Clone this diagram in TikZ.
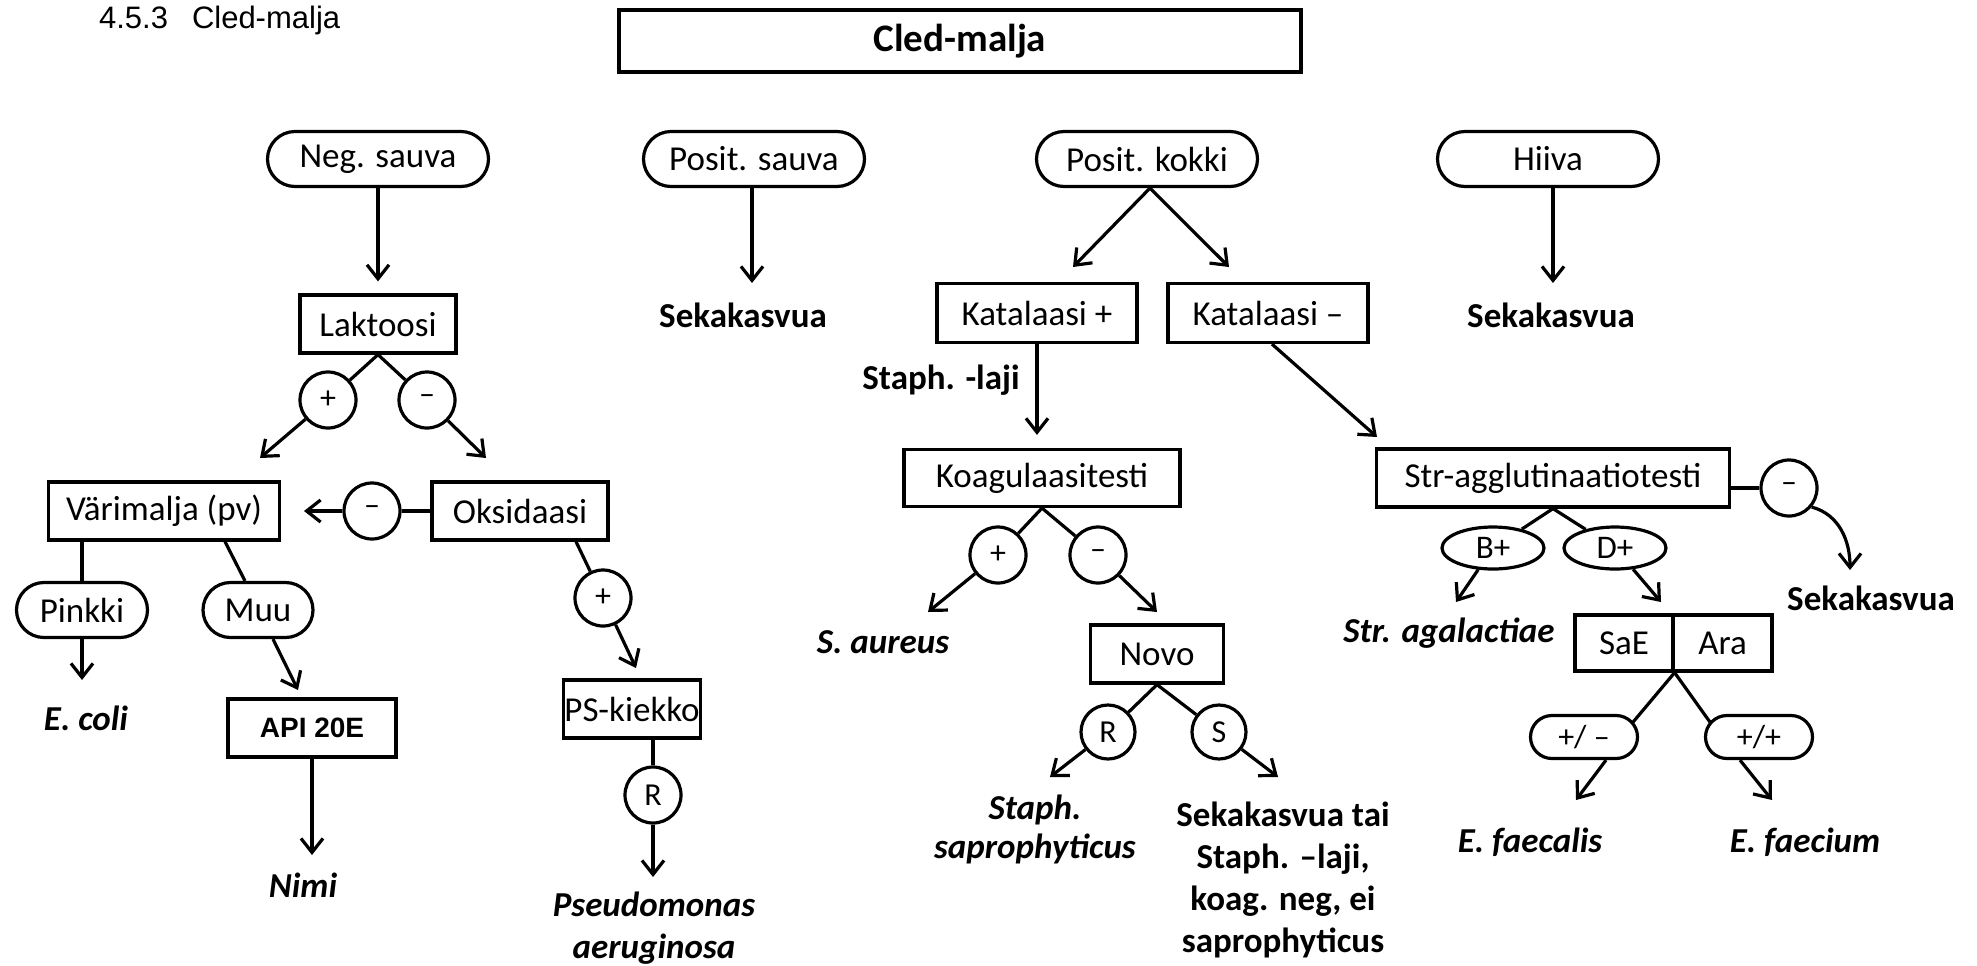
\documentclass[tikz,border=0pt]{standalone}
\usepackage{fontspec}
\setmainfont{Carlito}
\newfontfamily\arialfont{Liberation Sans}
\usetikzlibrary{arrows.meta,calc,shapes.geometric}

\begin{document}
\begin{tikzpicture}[x=0.5pt,y=-0.5pt,
  txt/.style={font=\fontsize{17.5}{21}\selectfont},
  box/.style={draw, rectangle, line width=1.6pt, inner sep=0pt, txt},
  pill/.style={draw, rectangle, rounded corners=13.75pt, line width=1.6pt,
    inner sep=0pt, minimum width=110.5pt, minimum height=27.5pt, txt},
  spill/.style={draw, rectangle, rounded corners=10.75pt, line width=1.6pt,
    inner sep=0pt, minimum width=53.5pt, minimum height=21.5pt,
    font=\fontsize{16}{18}\selectfont},
  circ/.style={draw, circle, line width=1.6pt, inner sep=0pt, minimum size=28pt,
    font=\fontsize{16}{18}\selectfont},
  ell/.style={draw, ellipse, line width=1.6pt, inner sep=0pt,
    minimum width=51pt, minimum height=21pt, font=\fontsize{16.5}{18}\selectfont},
  res/.style={align=center, font=\bfseries\fontsize{17.5}{21}\selectfont},
  spec/.style={align=center, font=\bfseries\itshape\fontsize{17.5}{21}\selectfont},
  conn/.style={line width=1.6pt},
  arr/.style={conn, -{Straight Barb[length=7pt,width=11pt]}}
]
\useasboundingbox (0,0) rectangle (1977,965);

% heading and title
\node[anchor=base west, font=\arialfont\fontsize{15.5}{18}\selectfont] (sec) at (92,28)
  {4.5.3\hspace{12pt}Cled-malja};
\node[box, line width=2.2pt, minimum width=341pt, minimum height=31pt,
  font=\bfseries\fontsize{19.5}{22}\selectfont] (title) at (960,41) {Cled-malja};

% top level groups
\node[pill] (neg) at (378,159) {Neg. sauva};
\node[pill] (psa) at (754,159) {Posit. sauva};
\node[pill] (pko) at (1147,159) {Posit. kokki};
\node[pill] (hii) at (1548,159) {Hiiva};

% ---- gram negative rods
\node[box, minimum width=78pt, minimum height=29pt] (lak) at (378,324) {Laktoosi};
\draw[arr, shorten >=6pt] (neg) -- (lak);

\node[circ] (lp) at (328,400) {+};
\node[circ] (lm) at (427,400) {–};
\draw[conn] (lak.south) -- (lp);
\draw[conn] (lak.south) -- (lm);
\coordinate (tlp) at (260,458);
\coordinate (tlm) at (486,458);
\draw[arr] (lp) -- (tlp);
\draw[arr] (lm) -- (tlm);

\node[box, minimum width=115.5pt, minimum height=29pt] (var) at (164,511) {Värimalja (pv)};
\node[box, minimum width=88pt, minimum height=29pt] (oks) at (520,511) {Oksidaasi};
\node[circ] (om) at (372,511) {–};
\draw[conn] (oks) -- (om);
\coordinate (tom) at (304,511);
\draw[arr] (om) -- (tom);

\node[pill, minimum width=65.5pt] (pin) at (82,610) {Pinkki};
\node[pill, minimum width=55pt] (muu) at (258,610) {Muu};
\draw[conn] (var.south -| pin) -- (pin);
\draw[conn] ($(var.south)+(61,0)$) -- ($(muu.north)+(-13,0)$);
\coordinate (tpin) at (82,680);
\draw[arr] (pin) -- (tpin);
\coordinate (tmuu) at (298,690);
\draw[arr] ($(muu.south)+(15,0)$) -- (tmuu);
\node[spec] (eco) at (86,718) {E. coli};

\node[box, line width=2pt, minimum width=84pt, minimum height=29pt,
  font=\arialfont\bfseries\fontsize{14}{16}\selectfont] (api) at (312,728) {API 20E};
\coordinate (tapi) at (312,855);
\draw[arr] (api) -- (tapi);
\node[spec] (nimi) at (303,885) {Nimi};

\node[circ] (op) at (603,598) {+};
\draw[conn] ($(oks.south)+(56,0)$) -- (op);
\coordinate (top) at (636,668);
\draw[arr] (op) -- (top);
\node[box, minimum width=68.5pt, minimum height=29pt] (psk) at (632,709) {PS-kiekko};
\node[circ] (pr) at (653,795) {R};
\draw[conn] (psk.south -| pr) -- (pr);
\coordinate (tpr) at (653,877);
\draw[arr] (pr) -- (tpr);
\node[spec] (pae) at (654,928) {Pseudomonas\\aeruginosa};

% ---- gram positive rods
\coordinate (tpsa) at (752,283);
\draw[arr] (psa.south -| tpsa) -- (tpsa);
\node[res] (sk1) at (743,315) {Sekakasvua};

% ---- gram positive cocci
\node[box, minimum width=100pt, minimum height=29.5pt] (katp) at (1037,313) {Katalaasi +};
\node[box, minimum width=100pt, minimum height=29.5pt] (katm) at (1268,313) {Katalaasi –};
\coordinate (tk1) at (1073,267);
\coordinate (tk2) at (1229,267);
\draw[arr] ($(pko.south)+(3,0)$) -- (tk1);
\draw[arr] ($(pko.south)+(3,0)$) -- (tk2);

\node[res] (stl) at (941,380) {Staph. -laji};
\node[box, minimum width=138pt, minimum height=28.5pt] (koa) at (1042,478) {Koagulaasitesti};
\draw[arr, shorten >=6.5pt] (katp.south) -- (katp.south |- koa.north);

\node[circ] (kp) at (998,555) {+};
\node[circ] (km) at (1098,555) {–};
\draw[conn] (koa.south) -- (kp);
\draw[conn] (koa.south) -- (km);
\coordinate (tkp) at (928,612);
\coordinate (tkm) at (1157,612);
\draw[arr] (kp) -- (tkp);
\draw[arr] (km) -- (tkm);
\node[spec] (sau) at (883,642) {S. aureus};

\node[box, minimum width=66.5pt, minimum height=29pt] (nov) at (1157,654) {Novo};
\node[circ, minimum size=27pt] (nr) at (1108,732) {R};
\node[circ, minimum size=27pt] (ns) at (1219,732) {S};
\draw[conn] (nov.south) -- (nr);
\draw[conn] (nov.south) -- (ns);
\coordinate (tnr) at (1050,777);
\coordinate (tns) at (1278,777);
\draw[arr] (nr) -- (tnr);
\draw[arr] (ns) -- (tns);
\node[spec, font=\bfseries\itshape\fontsize{17.5}{19.5}\selectfont] (ssa) at (1035,829)
  {Staph.\\saprophyticus};
\node[res] (sk2) at (1283,880)
  {Sekakasvua tai\\Staph. –laji,\\koag. neg, ei\\saprophyticus};

\coordinate (tkm2) at (1377,437);
\draw[arr] ($(katm.south)+(4,0)$) -- (tkm2);
\node[box, minimum width=176.5pt, minimum height=29pt] (str) at (1553,478) {Str-agglutinaatiotesti};
\node[circ] (sm) at (1789,488) {–};
\draw[conn] (str.east |- sm) -- (sm);
\coordinate (tsm) at (1850,570);
\draw[arr] (sm.-40) to[out=-15,in=90] (tsm);
\node[res] (sk3) at (1871,598) {Sekakasvua};

\node[ell] (bp) at (1493,548) {B+};
\node[ell] (dp) at (1615,548) {D+};
\draw[conn] (str.south) -- (bp);
\draw[conn] (str.south) -- (dp);
\coordinate (tbp) at (1456,602);
\coordinate (tdp) at (1661,602);
\draw[arr] (bp) -- (tbp);
\draw[arr] (dp) -- (tdp);
\node[spec] (sag) at (1449,633) {Str. agalactiae};

\node[box, minimum width=49pt, minimum height=28pt] (sae) at (1624,643) {SaE};
\node[box, minimum width=49.5pt, minimum height=28pt] (ara) at (1722.5,643) {Ara};
\node[spill] (pm) at (1584,737) {+/ –};
\node[spill] (pp) at (1759,737) {+/+};
\draw[conn] (sae.south east) -- ($(pm.east)+(-6,-15)$);
\draw[conn] (sae.south east) -- ($(pp.west)+(6,-15)$);
\coordinate (tpm) at (1576,800);
\coordinate (tpp) at (1772,800);
\draw[arr] ($(pm.south)+(22,0)$) -- (tpm);
\draw[arr] ($(pp.south)+(-19,0)$) -- (tpp);
\node[spec] (efs) at (1530,842) {E. faecalis};
\node[spec] (efm) at (1805,842) {E. faecium};

% ---- yeasts
\coordinate (thii) at (1553,283);
\draw[arr] (hii.south -| thii) -- (thii);
\node[res] (sk4) at (1551,315) {Sekakasvua};
\end{tikzpicture}
\end{document}
